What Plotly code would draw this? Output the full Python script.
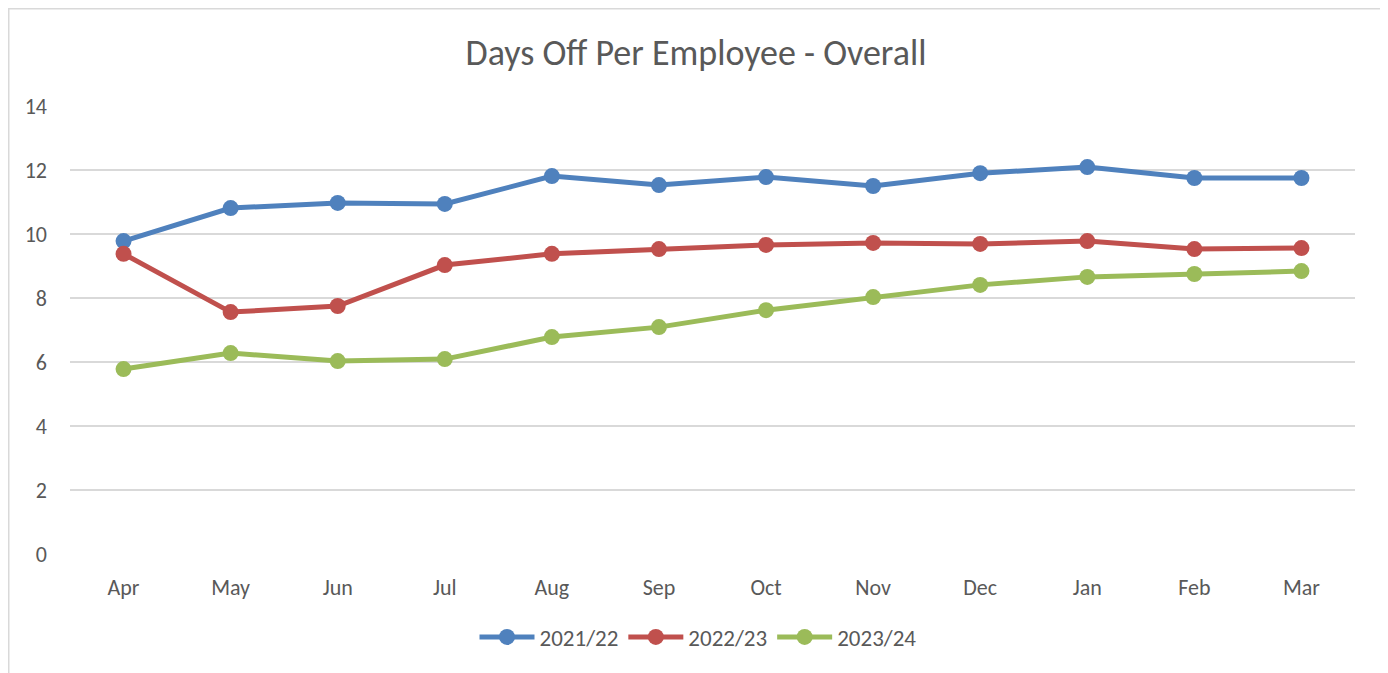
import plotly.graph_objects as go

months = ["Apr", "May", "Jun", "Jul", "Aug", "Sep", "Oct", "Nov", "Dec", "Jan", "Feb", "Mar"]
s2122 = [9.78, 10.81, 10.97, 10.94, 11.81, 11.53, 11.78, 11.50, 11.90, 12.09, 11.75, 11.75]
s2223 = [9.38, 7.56, 7.75, 9.03, 9.38, 9.53, 9.66, 9.72, 9.69, 9.78, 9.53, 9.56]
s2324 = [5.78, 6.28, 6.03, 6.09, 6.78, 7.09, 7.62, 8.03, 8.41, 8.66, 8.75, 8.84]
series_names = ["2021/22", "2022/23", "2023/24"]
colors = ["#4f81bd", "#c0504d", "#9bbb59"]

FONT = "Carlito, Lato, 'Liberation Sans', sans-serif"

fig = go.Figure()
for name, vals, col in zip(series_names, [s2122, s2223, s2324], colors):
    fig.add_trace(go.Scatter(
        x=months, y=vals, name=name, mode="lines+markers",
        line=dict(color=col, width=5),
        marker=dict(color=col, size=16),
    ))

W, H = 1380, 665
L, R, T, B = 62, 33, 98, 119
pw, ph = W - L - R, H - T - B

fig.update_layout(
    width=W, height=H,
    margin=dict(l=L, r=R, t=T, b=B),
    paper_bgcolor="white", plot_bgcolor="white",
    font=dict(family=FONT, color="#595959", size=22),
    title=dict(text="Days Off Per Employee - Overall", xref="container", x=(696 - 8) / W,
               xanchor="center", y=1 - 44 / H, yanchor="middle",
               font=dict(family=FONT, size=36, color="#595959")),
    xaxis=dict(range=[-0.5, 11.5], showgrid=False, zeroline=False, showline=False,
               ticks="", tickfont=dict(size=22, color="#595959"), ticklabelstandoff=18),
    yaxis=dict(range=[0, 14], dtick=2, showgrid=True, gridcolor="#d9d9d9", gridwidth=1.5,
               zeroline=False, showline=False, ticks="",
               tickfont=dict(size=22, color="#595959"), ticklabelstandoff=22),
    legend=dict(orientation="h", x=(698 - 8 - L) / pw, xanchor="center",
                y=-83 / ph, yanchor="middle", itemwidth=55,
                font=dict(size=23, color="#595959"), tracegroupgap=0),
    showlegend=True,
)

# outer chart border
fig.add_shape(type="rect", xref="paper", yref="paper",
              x0=(0.75 - L) / pw, x1=(1375 - L) / pw,
              y0=-(B + 5) / ph, y1=1 + (T - 0.75) / ph,
              line=dict(color="#d9d9d9", width=1.5), fillcolor="rgba(0,0,0,0)", layer="below")

fig.write_html("out.html")
